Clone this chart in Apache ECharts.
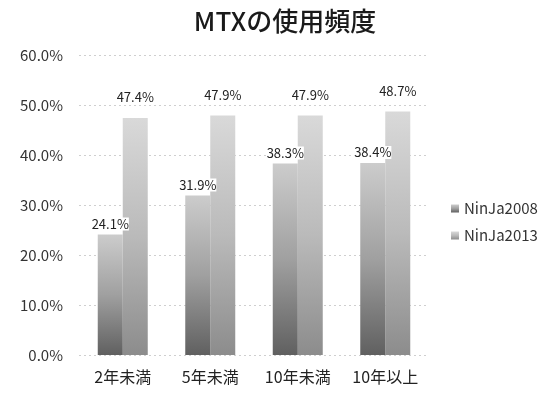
<!DOCTYPE html>
<html>
<head>
<meta charset="utf-8">
<script src="https://cdn.jsdelivr.net/npm/echarts@6/dist/echarts.min.js"></script>
<style>
  html, body { margin: 0; padding: 0; background: #fff; }
  #chart { width: 554px; height: 396px; }
</style>
</head>
<body>
<div id="chart"></div>
<script>
const categories = ['2年未満', '5年未満', '10年未満', '10年以上'];
const ninja2008 = [24.1, 31.9, 38.3, 38.4];
const ninja2013 = [47.4, 47.9, 47.9, 48.7];
const yTicks = [0, 10, 20, 30, 40, 50, 60];

const FONT = '"Noto Sans CJK JP", "Noto Sans", sans-serif';

function grad(bottom, mid, top) {
  return new echarts.graphic.LinearGradient(0, 1, 0, 0, [
    { offset: 0, color: bottom },
    { offset: 0.5, color: mid },
    { offset: 1, color: top }
  ]);
}

const chart = echarts.init(document.getElementById('chart'));
chart.setOption({
  animation: false,
  backgroundColor: '#ffffff',
  title: {
    text: 'MTXの使用頻度',
    left: 280, top: 3, textAlign: 'center',
    textStyle: { fontFamily: FONT, fontSize: 26, fontWeight: 500, color: '#1a1a1a' }
  },
  legend: {
    orient: 'vertical',
    left: 446, top: 196,
    itemWidth: 8, itemHeight: 8, itemGap: 12,
    icon: 'rect',
    textStyle: { fontFamily: FONT, fontSize: 15, color: '#333' },
    data: ['NinJa2008', 'NinJa2013']
  },
  grid: { left: 79, right: 125, top: 55, bottom: 41 },
  xAxis: {
    type: 'category',
    data: categories,
    axisLine: { show: false },
    axisTick: { show: false },
    axisLabel: { fontFamily: FONT, fontSize: 16, color: '#222', margin: 14 }
  },
  yAxis: {
    type: 'value',
    min: yTicks[0], max: yTicks[yTicks.length - 1], interval: 10,
    axisLine: { show: false },
    axisTick: { show: false },
    axisLabel: {
      fontFamily: FONT, fontSize: 15, color: '#333', margin: 16,
      formatter: v => v.toFixed(1) + '%'
    },
    splitLine: { lineStyle: { color: '#cfcfcf', type: [2, 3], width: 1 } }
  },
  series: [
    {
      name: 'NinJa2008', type: 'bar', data: ninja2008,
      barWidth: 25, barGap: '0%',
      itemStyle: { color: grad('#606060', '#a0a0a0', '#cccccc') },
      label: {
        show: true, position: 'top', distance: 4,
        formatter: p => p.value.toFixed(1) + '%',
        fontFamily: FONT, fontSize: 13, color: '#222',
        backgroundColor: '#fff'
      },
      z: 3
    },
    {
      name: 'NinJa2013', type: 'bar', data: ninja2013,
      barWidth: 25,
      itemStyle: { color: grad('#8c8c8c', '#bababa', '#d9d9d9') },
      label: {
        show: true, position: 'top', distance: 14,
        formatter: p => p.value.toFixed(1) + '%',
        fontFamily: FONT, fontSize: 13, color: '#222'
      },
      z: 2
    }
  ]
});
</script>
</body>
</html>
